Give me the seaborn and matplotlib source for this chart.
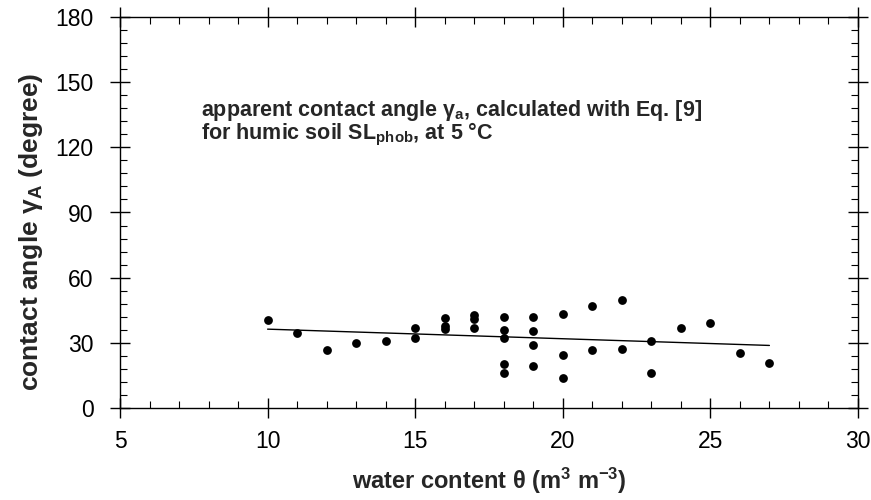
import matplotlib
matplotlib.use("Agg")
import matplotlib.pyplot as plt
import seaborn as sns
import pandas as pd
from matplotlib.ticker import MultipleLocator

# data
water = [10, 11, 12, 13, 14, 15, 15, 16, 16, 16, 17, 17, 17,
         18, 18, 18, 18, 18, 19, 19, 19, 19, 20, 20, 20,
         21, 21, 22, 22, 23, 23, 24, 25, 26, 27]
angle = [40.6, 34.4, 26.5, 29.7, 30.9, 37.0, 32.0, 41.5, 37.8, 36.3, 43.0, 41.0, 37.0,
         41.8, 36.1, 32.2, 20.3, 16.1, 42.1, 35.4, 29.1, 19.4, 43.3, 24.3, 13.8,
         47.0, 26.9, 49.6, 27.2, 30.8, 16.1, 36.9, 39.2, 25.1, 20.9]
fit_x = [10, 27]
fit_y = [36.3, 28.8]

xticks = [5, 10, 15, 20, 25, 30]
yticks = [0, 30, 60, 90, 120, 150, 180]

sns.set_theme(style="ticks")
plt.rcParams['font.family'] = ['Liberation Sans', 'DejaVu Sans']
plt.rcParams['mathtext.default'] = 'regular'

df = pd.DataFrame({"water": water, "angle": angle})
fit = pd.DataFrame({"x": fit_x, "y": fit_y})

fig = plt.figure(figsize=(8.71, 5.0), dpi=100)
ax = fig.add_axes([0.1378, 0.184, 0.8472, 0.782])

sns.lineplot(data=fit, x="x", y="y", ax=ax, color="black", linewidth=1.0)
sns.scatterplot(data=df, x="water", y="angle", ax=ax, color="black", s=40,
                edgecolor="black", linewidth=0, zorder=3)

ax.set_xlim(5, 30)
ax.set_ylim(0, 180)
ax.set_xticks(xticks)
ax.set_yticks(yticks)
ax.xaxis.set_minor_locator(MultipleLocator(1))
ax.yaxis.set_minor_locator(MultipleLocator(6))
ax.tick_params(which="major", direction="inout", length=14, width=1, labelsize=16.5,
               top=True, right=True, color="black", labelcolor="black", pad=12)
ax.tick_params(axis="x", which="major", pad=9)
ax.tick_params(which="minor", direction="in", length=5, width=0.8,
               top=True, right=True, color="black")
for s in ax.spines.values():
    s.set_color("black")
    s.set_linewidth(1.0)

ax.set_xlabel(r"water content $\theta$ (m$^3$ m$^{-3}$)", fontsize=17,
              fontweight="bold", labelpad=9)
ax.set_ylabel(r"contact angle $\gamma_{A}$ (degree)", fontsize=19,
              fontweight="bold")
ax.yaxis.set_label_coords(-0.102, 0.45)

ax.text(0.11, 0.76, r"apparent contact angle $\gamma_a$, calculated with Eq. [9]",
        transform=ax.transAxes, fontsize=15.5, fontweight="bold", va="center")
ax.text(0.11, 0.70, r"for humic soil SL$_{phob}$, at 5 °C",
        transform=ax.transAxes, fontsize=15.5, fontweight="bold", va="center")

fig.savefig("out.png", dpi=100)
